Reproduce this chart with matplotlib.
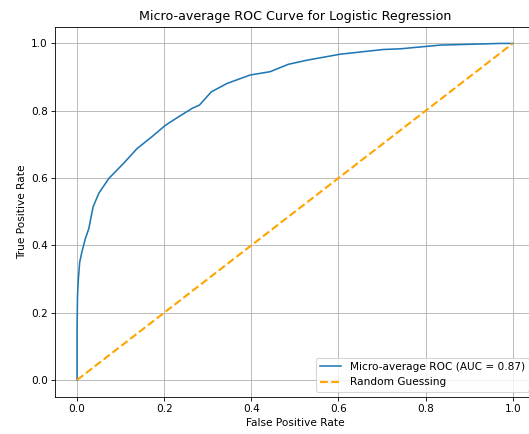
import matplotlib
matplotlib.use("Agg")
import matplotlib.pyplot as plt
import numpy as np

# ROC curve points
fpr = [0.0, 0.0, 0.001, 0.003, 0.006, 0.011, 0.019, 0.027, 0.033, 0.037, 0.050,
       0.073, 0.107, 0.138, 0.172, 0.203, 0.233, 0.264, 0.281, 0.308, 0.344,
       0.397, 0.443, 0.485, 0.527, 0.604, 0.703, 0.742, 0.833, 0.971, 1.0]
tpr = [0.0, 0.15, 0.25, 0.30, 0.35, 0.38, 0.42, 0.45, 0.49, 0.515, 0.555,
       0.599, 0.644, 0.688, 0.723, 0.757, 0.782, 0.807, 0.817, 0.856, 0.881,
       0.906, 0.916, 0.938, 0.950, 0.968, 0.982, 0.984, 0.995, 1.0, 1.0]
roc_auc = 0.87

dpi = 76
fig = plt.figure(figsize=(529 / dpi, 434 / dpi), dpi=dpi)
ax = fig.add_axes([0.1045, 0.0857, 0.906, 0.853])

ax.plot(fpr, tpr, label=f"Micro-average ROC (AUC = {roc_auc:.2f})")
ax.plot([0, 1], [0, 1], color="orange", linestyle="--", lw=2, label="Random Guessing")
ax.set_xlim(-0.05, 1.05)
ax.set_ylim(-0.05, 1.05)
ax.set_xlabel("False Positive Rate")
ax.set_ylabel("True Positive Rate")
ax.set_title("Micro-average ROC Curve for Logistic Regression")
ax.legend(loc="lower right")
ax.grid(True)

fig.savefig("out.png", dpi=dpi)
